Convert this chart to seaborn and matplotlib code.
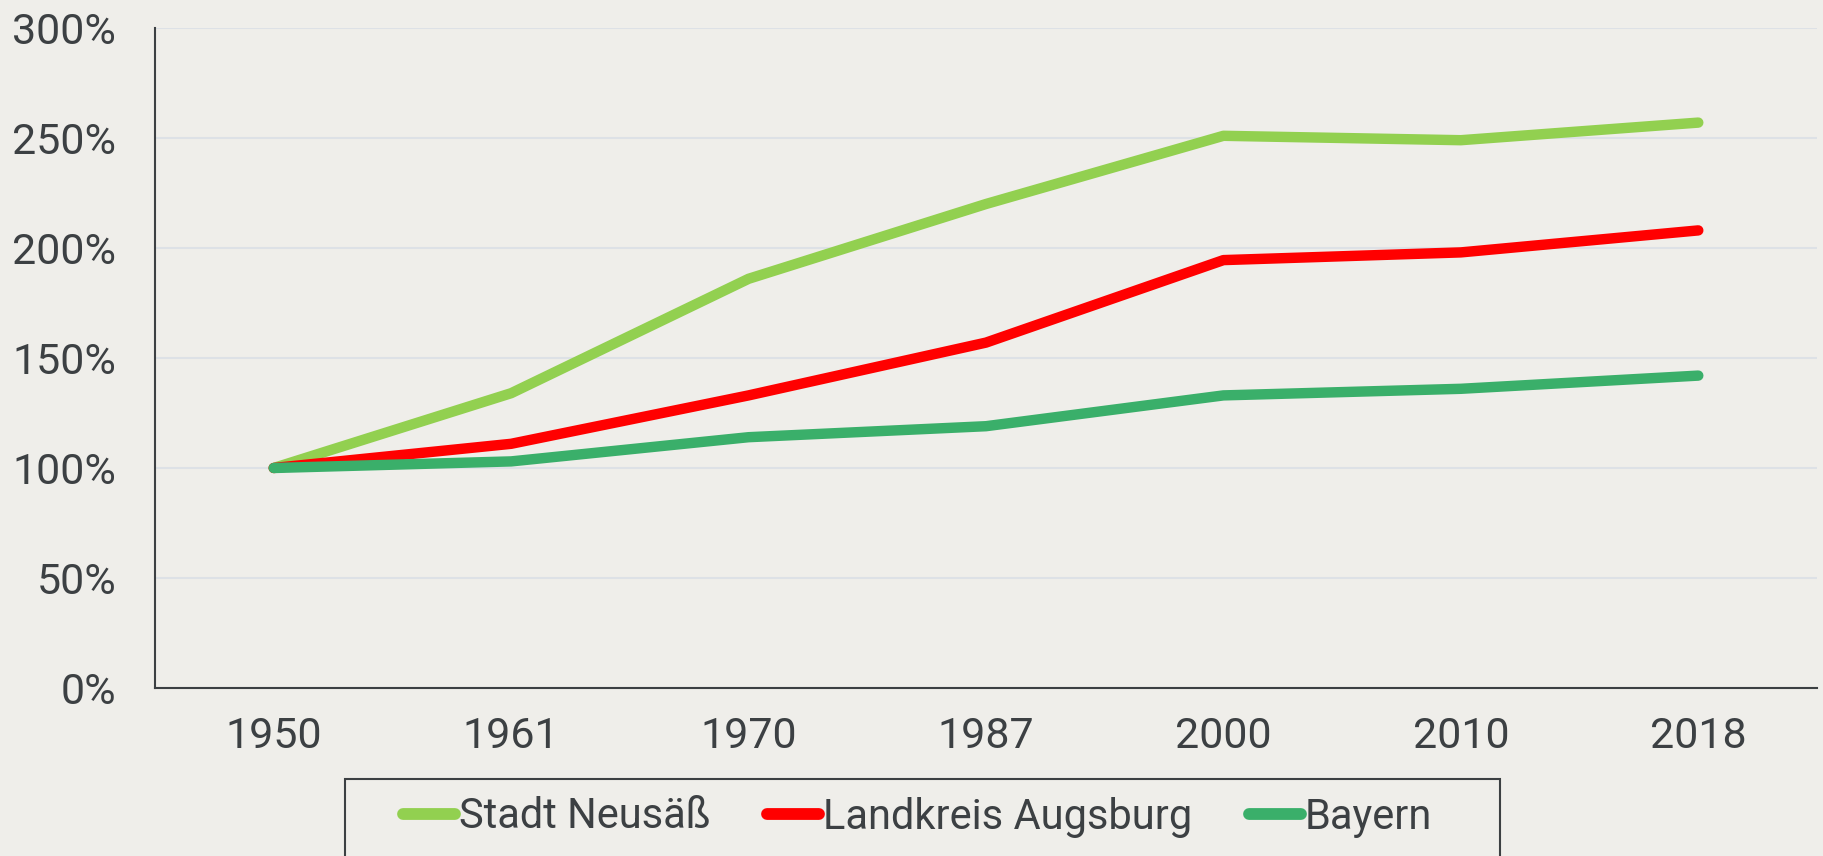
import numpy as np
import pandas as pd
import matplotlib.pyplot as plt
import matplotlib.patches as patches
import seaborn as sns

# Werte (Index 1950 = 100 %)
jahre = ["1950", "1961", "1970", "1987", "2000", "2010", "2018"]
neusaess = [100, 134, 186, 220, 251, 249, 257]
landkreis = [100, 111, 133, 157, 194.5, 198, 208]
bayern = [100, 103, 114, 119, 133, 136, 142]
namen = ["Stadt Neusäß", "Landkreis Augsburg", "Bayern"]
farben = ["#92D050", "#FF0000", "#3AAF6A"]

bg = "#EFEEEA"
txt = "#3C4043"

df = pd.DataFrame({
    "Jahr": jahre * 3,
    "Wert": neusaess + landkreis + bayern,
    "Gebiet": [namen[0]] * 7 + [namen[1]] * 7 + [namen[2]] * 7,
})

sns.set_theme(style="white")
plt.rcParams["font.family"] = ["Roboto", "DejaVu Sans"]

fig = plt.figure(figsize=(18.24, 8.56), dpi=100, facecolor=bg)
ax = fig.add_axes([155 / 1824, 1 - 688 / 856, (1817 - 155) / 1824, (688 - 28) / 856])
ax.set_facecolor(bg)

sns.lineplot(data=df, x="Jahr", y="Wert", hue="Gebiet", palette=farben,
             linewidth=7.5, ax=ax, legend=False, sort=False)
for ln in ax.lines:
    ln.set_solid_capstyle("round")
    ln.set_solid_joinstyle("round")

ax.set_xlim(-0.5, 6.5)
ax.set_ylim(0, 300)
ax.set_yticks(np.arange(0, 301, 50))
ax.set_yticklabels([f"{v}%" for v in range(0, 301, 50)])
ax.yaxis.grid(True, color="#DDE1E6", linewidth=1.5)
ax.set_axisbelow(True)
ax.set_xlabel("")
ax.set_ylabel("")
ax.tick_params(axis="both", length=0, labelsize=31, labelcolor=txt)
ax.tick_params(axis="y", pad=28)
ax.tick_params(axis="x", pad=20)
for s in ["top", "right"]:
    ax.spines[s].set_visible(False)
for s in ["left", "bottom"]:
    ax.spines[s].set_color("#3C4043")
    ax.spines[s].set_linewidth(1.5)

# Legende
handles = [plt.Line2D([0], [0], color=c, linewidth=8.5, solid_capstyle="round") for c in farben]
leg = fig.legend(handles, namen, loc="center left", ncol=3, frameon=False,
                 bbox_to_anchor=(382 / 1824, 1 - 817 / 856), borderpad=0,
                 handlelength=1.25, handletextpad=0.1, columnspacing=1.35,
                 fontsize=30)
for t in leg.get_texts():
    t.set_color(txt)
fig.patches.append(patches.Rectangle((345 / 1824, -0.05), (1500 - 345) / 1824, 0.05 + (856 - 779) / 856,
                                     transform=fig.transFigure, fill=False,
                                     edgecolor="#3C4043", linewidth=1.5))

fig.savefig("out.png", dpi=100, facecolor=bg)
